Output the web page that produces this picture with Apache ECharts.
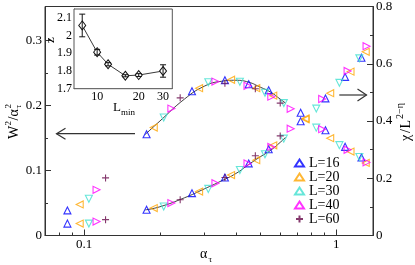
<!DOCTYPE html>
<html><head><meta charset="utf-8">
<script src="https://cdn.jsdelivr.net/npm/echarts@6/dist/echarts.min.js"></script>
<style>html,body{margin:0;padding:0;background:#fff}#c{width:415px;height:265px}</style>
</head><body><div id="c"></div>
<script>
// ---- data ----
const legendNames = ['L=16', 'L=20', 'L=30', 'L=40', 'L=60'];
const alpha16 = [0.0859, 0.177, 0.268, 0.362, 0.45, 0.54, 0.723, 0.907, 1.085, 1.26];
const W16     = [0.0386, 0.1557, 0.2218, 0.2386, 0.2325, 0.2234, 0.1887, 0.1618, 0.1363, 0.120];
const chi16   = [0.0416, 0.090, 0.148, 0.2026, 0.2518, 0.3013, 0.3993, 0.479, 0.554, 0.621];
const alpha20 = [0.0961, 0.189, 0.286, 0.383, 0.482, 0.563, 0.756, 0.947, 1.14, 1.31];
const W20     = [0.0478, 0.166, 0.2264, 0.2394, 0.2264, 0.215, 0.1786, 0.1496, 0.129, 0.1115];
const chi20   = [0.0416, 0.0959, 0.1534, 0.2113, 0.2632, 0.3152, 0.4087, 0.497, 0.5725, 0.6417];
const alpha30 = [0.1045, 0.207, 0.311, 0.415, 0.522, 0.62, 0.834, 1.03, 1.236];
const W30     = [0.0565, 0.1814, 0.2356, 0.2363, 0.2195, 0.2035, 0.1658, 0.1389, 0.1206];
const chi30   = [0.0416, 0.1015, 0.1628, 0.2286, 0.284, 0.3384, 0.4433, 0.5333, 0.6189];
const alpha40 = [0.1121, 0.222, 0.332, 0.445, 0.553, 0.66, 0.88, 1.11, 1.32];
const W40     = [0.0702, 0.1951, 0.2366, 0.23, 0.2134, 0.1948, 0.1634, 0.1318, 0.1124];
const chi40   = [0.0485, 0.1132, 0.1825, 0.2518, 0.3093, 0.373, 0.4769, 0.5749, 0.6615];
const alpha60 = [0.1217, 0.2406, 0.362, 0.478, 0.6];
const W60     = [0.0885, 0.2116, 0.234, 0.2256, 0.2035];
const chi60   = [0.0554, 0.1247, 0.2026, 0.2788, 0.348];
const fitAlpha = [0.175, 0.2, 0.25, 0.3, 0.35, 0.4, 0.45, 0.5, 0.55, 0.6, 0.63];
const fitW     = [0.1555, 0.176, 0.2096, 0.2295, 0.237, 0.2386, 0.2356, 0.228, 0.2203, 0.2096, 0.2035];
const fitChi   = [0.0895, 0.1004, 0.1316, 0.1628, 0.1905, 0.2165, 0.248, 0.275, 0.2978, 0.3255, 0.3429];
// inset
const insetLmin = [7.8, 10, 12, 16, 20, 30];
const insetZ    = [2.057, 1.906, 1.838, 1.773, 1.777, 1.80];
const insetErr  = [0.064, 0.016, 0.009, 0.006, 0.008, 0.035];
// tick labels
const xMajorTicks = [0.1, 1];
const xMinorTicks = [0.08, 0.09, 0.2, 0.3, 0.4, 0.5, 0.6, 0.7, 0.8, 0.9];
const yLeftTicks = [0, 0.1, 0.2, 0.3];
const yLeftMinor = [0.05, 0.15, 0.25];
const insetXTicks = [10, 20, 30];
const insetYTicks = [1.7, 1.8, 1.9, 2, 2.1];
const insetYMinor = [1.75, 1.85, 1.95, 2.05];

const FONT = 'Liberation Serif';
const AX = '#333';
const colors = ['#0000ff', '#ffa500', '#40e0d0', '#ff00ff', '#670748'];
const symbols = ['triangle', 'triangle', 'triangle', 'triangle', 'path://M5,0V10M0,5H10'];
const rots = [0, 90, 180, -90, 0];
const sets = [
  [alpha16, W16, chi16], [alpha20, W20, chi20], [alpha30, W30, chi30],
  [alpha40, W40, chi40], [alpha60, W60, chi60]
];
const pairs = (xs, ys) => xs.map((x, i) => [x, ys[i]]);

const series = [];
series.push({ type: 'line', xAxisIndex: 0, yAxisIndex: 0, data: pairs(fitAlpha, fitW), smooth: true,
  symbol: 'none', lineStyle: { color: '#111', width: 0.8 }, z: 2, silent: true });
series.push({ type: 'line', xAxisIndex: 0, yAxisIndex: 1, data: pairs(fitAlpha, fitChi), smooth: true,
  symbol: 'none', lineStyle: { color: '#111', width: 0.8 }, z: 2, silent: true });
sets.forEach((s, k) => {
  [1, 2].forEach((j) => {
    series.push({
      type: 'scatter', name: legendNames[k], xAxisIndex: 0, yAxisIndex: j === 1 ? 0 : 1,
      symbol: symbols[k], symbolRotate: rots[k], symbolSize: k === 4 ? 7 : 7,
      itemStyle: { color: 'rgba(255,255,255,0)', borderColor: colors[k], borderWidth: 1.1 },
      data: pairs(s[0], s[j]), z: 3
    });
  });
});
// inset line + markers
series.push({ type: 'line', xAxisIndex: 2, yAxisIndex: 3, data: pairs(insetLmin, insetZ),
  symbol: 'diamond', symbolSize: [7, 9], showAllSymbol: true,
  lineStyle: { color: '#222', width: 0.9 },
  itemStyle: { color: '#fff', borderColor: '#111', borderWidth: 1 }, z: 5 });
series.push({ type: 'custom', xAxisIndex: 2, yAxisIndex: 3,
  data: insetLmin.map((l, i) => [l, insetZ[i], insetErr[i]]), z: 6,
  renderItem: (params, api) => {
    const x = api.value(0), y = api.value(1), e = api.value(2);
    const t = api.coord([x, y + e]), b = api.coord([x, y - e]);
    const w = 3, st = { stroke: '#111', lineWidth: 1 };
    return { type: 'group', children: [
      { type: 'line', shape: { x1: t[0], y1: t[1], x2: b[0], y2: b[1] }, style: st },
      { type: 'line', shape: { x1: t[0] - w, y1: t[1], x2: t[0] + w, y2: t[1] }, style: st },
      { type: 'line', shape: { x1: b[0] - w, y1: b[1], x2: b[0] + w, y2: b[1] }, style: st }
    ] };
  } });

const lbl = (size) => ({ fontFamily: FONT, fontSize: size, color: '#000' });
const fmt = (v) => String(+Number(v).toPrecision(4));

const option = {
  animation: false,
  backgroundColor: '#fff',
  grid: [
    { left: 45, top: 5, width: 328, height: 230.5, show: true, borderColor: AX, borderWidth: 1, backgroundColor: 'transparent' },
    { left: 74, top: 9, width: 98.3, height: 79.7, show: true, borderColor: '#555', borderWidth: 1, backgroundColor: '#fff', z: 4 }
  ],
  legend: {
    data: legendNames, orient: 'vertical', left: 294, top: 156, padding: 0,
    itemWidth: 9, itemHeight: 7, itemGap: 0,
    textStyle: { fontFamily: FONT, fontSize: 14, color: '#000', lineHeight: 12.6 }
  },
  xAxis: [
    { type: 'log', gridIndex: 0, min: 0.07, max: 1.4, position: 'bottom',
      axisLine: { show: true, lineStyle: { color: AX } }, splitLine: { show: false },
      axisTick: { inside: true, length: 6, customValues: xMajorTicks, lineStyle: { color: AX } },
      axisLabel: { customValues: xMajorTicks, margin: 3, formatter: fmt, ...lbl(13) } },
    { type: 'log', gridIndex: 0, min: 0.07, max: 1.4, position: 'bottom',
      axisLine: { show: false }, splitLine: { show: false }, axisLabel: { show: false },
      axisTick: { inside: true, length: 3, customValues: xMinorTicks, lineStyle: { color: AX } } },
    { type: 'log', gridIndex: 1, min: 6.8, max: 35, position: 'bottom',
      axisLine: { show: true, lineStyle: { color: '#555' } }, splitLine: { show: false },
      axisTick: { inside: true, length: 4, customValues: insetXTicks, lineStyle: { color: '#333' } },
      axisLabel: { customValues: insetXTicks, margin: 2, formatter: fmt, ...lbl(12) } }
  ],
  yAxis: [
    { type: 'value', gridIndex: 0, min: 0, max: 0.352, position: 'left',
      axisLine: { show: true, lineStyle: { color: AX } }, splitLine: { show: false },
      axisTick: { show: true, inside: true, length: 6, customValues: yLeftTicks, lineStyle: { color: AX } },
      axisLabel: { customValues: yLeftTicks, margin: 3, formatter: fmt, ...lbl(13) } },
    { type: 'value', gridIndex: 0, min: 0, max: 0.8, interval: 0.2, position: 'right',
      axisLine: { show: true, lineStyle: { color: AX } }, splitLine: { show: false },
      axisTick: { show: true, inside: true, length: 6, lineStyle: { color: AX } },
      minorTick: { show: true, splitNumber: 2, length: 3, lineStyle: { color: AX } },
      axisLabel: { margin: 3, formatter: fmt, ...lbl(13) } },
    { type: 'value', gridIndex: 0, min: 0, max: 0.352, position: 'left',
      axisLine: { show: false }, splitLine: { show: false }, axisLabel: { show: false },
      axisTick: { show: true, inside: true, length: 3, customValues: yLeftMinor, lineStyle: { color: AX } } },
    { type: 'value', gridIndex: 1, min: 1.7, max: 2.15, position: 'left',
      axisLine: { show: true, lineStyle: { color: '#555' } }, splitLine: { show: false },
      axisTick: { show: true, inside: true, length: 4, customValues: insetYTicks, lineStyle: { color: '#333' } },
      axisLabel: { customValues: insetYTicks, margin: 2, formatter: fmt, ...lbl(12) } },
    { type: 'value', gridIndex: 1, min: 1.7, max: 2.15, position: 'left',
      axisLine: { show: false }, splitLine: { show: false }, axisLabel: { show: false },
      axisTick: { show: true, inside: true, length: 2, customValues: insetYMinor, lineStyle: { color: '#333' } } }
  ],
  series: series,
  graphic: [
    // arrows
    { type: 'polyline', shape: { points: [[135, 133.7], [56.5, 133.7]] }, style: { stroke: '#333', lineWidth: 1.2, fill: null } },
    { type: 'polyline', shape: { points: [[65.5, 128.2], [56.5, 133.7], [65.5, 139.2]] }, style: { stroke: '#333', lineWidth: 1.2, fill: null } },
    { type: 'polyline', shape: { points: [[339.3, 95], [366.5, 95]] }, style: { stroke: '#333', lineWidth: 1.2, fill: null } },
    { type: 'polyline', shape: { points: [[357.5, 89], [366.5, 95], [357.5, 101]] }, style: { stroke: '#333', lineWidth: 1.2, fill: null } },
    // left axis title W^2/alpha_tau^2
    { type: 'group', x: 14, y: 139, rotation: Math.PI / 2, children: [
      { type: 'text', style: { text: 'W', x: 0, y: 0, font: '14px "Liberation Serif"', fill: '#000', verticalAlign: 'middle', align: 'left' } },
      { type: 'text', style: { text: '2', x: 13.5, y: -5, font: '9px "Liberation Serif"', fill: '#000', verticalAlign: 'middle', align: 'left' } },
      { type: 'text', style: { text: '/', x: 18.5, y: 0, font: '14px "Liberation Serif"', fill: '#000', verticalAlign: 'middle', align: 'left' } },
      { type: 'text', style: { text: 'α', x: 22.5, y: 0, font: '14px "Liberation Serif"', fill: '#000', verticalAlign: 'middle', align: 'left' } },
      { type: 'text', style: { text: '2', x: 30.5, y: -5, font: '9px "Liberation Serif"', fill: '#000', verticalAlign: 'middle', align: 'left' } },
      { type: 'text', style: { text: 'τ', x: 30.5, y: 5, font: '9px "Liberation Serif"', fill: '#000', verticalAlign: 'middle', align: 'left' } }
    ] },
    // right axis title chi/L^{2-eta}
    { type: 'group', x: 406, y: 141, rotation: Math.PI / 2, children: [
      { type: 'text', style: { text: 'χ', x: 0, y: 0, font: '14px "Liberation Serif"', fill: '#000', verticalAlign: 'middle', align: 'left' } },
      { type: 'text', style: { text: '/', x: 8, y: 0, font: '14px "Liberation Serif"', fill: '#000', verticalAlign: 'middle', align: 'left' } },
      { type: 'text', style: { text: 'L', x: 12.5, y: 0, font: '14px "Liberation Serif"', fill: '#000', verticalAlign: 'middle', align: 'left' } },
      { type: 'text', style: { text: '2−η', x: 22, y: -6, font: '10px "Liberation Serif"', fill: '#000', verticalAlign: 'middle', align: 'left' } }
    ] },
    // bottom axis title alpha_tau
    { type: 'text', style: { text: 'α', x: 200, y: 254, font: '14px "Liberation Serif"', fill: '#000', verticalAlign: 'middle', align: 'left' } },
    { type: 'text', style: { text: 'τ', x: 208.5, y: 259.5, font: '9px "Liberation Serif"', fill: '#000', verticalAlign: 'middle', align: 'left' } },
    // inset titles
    { type: 'text', x: 51, y: 40, rotation: Math.PI / 2, z: 10, style: { text: 'z', x: 0, y: 0, font: '13px "Liberation Serif"', fill: '#000', verticalAlign: 'middle', align: 'center' } },
    { type: 'text', z: 10, style: { text: 'L', x: 113, y: 107.5, font: '13px "Liberation Serif"', fill: '#000', verticalAlign: 'middle', align: 'left' } },
    { type: 'text', z: 10, style: { text: 'min', x: 121, y: 113, font: '9px "Liberation Serif"', fill: '#000', verticalAlign: 'middle', align: 'left' } }
  ]
};
const chart = echarts.init(document.getElementById('c'), null, { renderer: 'canvas' });
chart.setOption(option);
</script>
</body></html>
